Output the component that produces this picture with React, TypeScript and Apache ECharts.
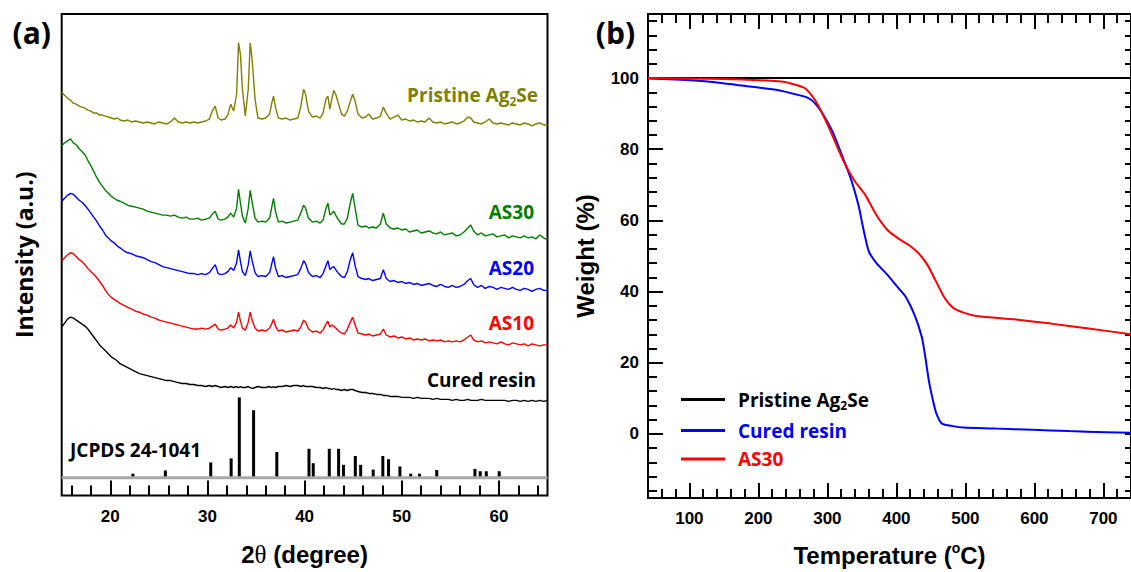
import React, { useEffect, useRef } from 'react';
import * as echarts from 'echarts';

// ---------------- XRD data (a.u., offset traces) ----------------
const twoTheta = [
  15.0, 15.3, 15.6, 15.9, 16.2, 16.5, 16.8, 17.1, 17.4, 17.7,
  18.0, 18.3, 18.6, 18.9, 19.2, 19.5, 19.8, 20.1, 20.4, 20.7,
  21.0, 21.4, 21.8, 22.2, 22.6, 23.0, 23.4, 23.8, 24.2, 24.6,
  25.0, 25.4, 25.8, 26.2, 26.6, 27.0, 27.4, 27.8, 28.2, 28.6,
  29.0, 29.4, 29.8, 30.2, 30.5, 30.8, 31.1, 31.4, 31.8, 32.1,
  32.4, 32.7, 33.0, 33.2, 33.4, 33.6, 33.9, 34.2, 34.4, 34.6,
  34.9, 35.2, 35.6, 36.0, 36.4, 36.6, 36.8, 37.0, 37.3, 37.7,
  38.1, 38.5, 38.9, 39.3, 39.6, 39.9, 40.1, 40.4, 40.8, 41.2,
  41.6, 41.9, 42.2, 42.4, 42.6, 42.8, 43.0, 43.2, 43.5, 43.8,
  44.1, 44.4, 44.7, 44.95, 45.2, 45.5, 45.9, 46.3, 46.6, 47.0,
  47.4, 47.8, 48.1, 48.4, 48.8, 49.2, 49.6, 50.0, 50.4, 50.8,
  51.2, 51.6, 52.0, 52.4, 52.8, 53.2, 53.6, 54.0, 54.4, 54.8,
  55.2, 55.6, 56.0, 56.4, 56.8, 57.1, 57.4, 57.8, 58.2, 58.6,
  59.0, 59.4, 59.8, 60.2, 60.6, 61.0, 61.4, 61.8, 62.2, 62.6,
  63.0, 63.4, 63.8, 64.2, 64.6, 65.0,
];

const intPristine = [
  407, 404, 401, 399, 396, 395, 393, 392, 391, 389,
  388, 386, 386, 384, 384, 383, 382, 381, 380, 381,
  379, 378, 379, 377, 378, 377, 376, 377, 376, 375,
  377, 376, 375, 377, 381, 377, 376, 377, 376, 377,
  376, 377, 378, 380, 388, 393, 381, 379, 380, 384,
  395, 388, 405, 457, 445, 410, 383, 410, 457, 440,
  400, 381, 380, 381, 385, 395, 403, 392, 381, 380,
  381, 379, 380, 381, 392, 410, 405, 388, 382, 383,
  381, 386, 400, 403, 390, 400, 409, 405, 395, 385,
  383, 388, 398, 405, 398, 385, 381, 382, 385, 380,
  381, 383, 392, 386, 380, 382, 384, 379, 380, 378,
  379, 377, 378, 377, 381, 377, 376, 377, 375, 376,
  377, 375, 376, 378, 382, 381, 377, 376, 375, 377,
  380, 376, 375, 376, 375, 374, 376, 375, 374, 376,
  375, 373, 375, 376, 374, 374,
];

const intAS30 = [
  353, 356, 358, 360, 356, 354, 350, 347, 344, 338,
  333, 327, 321, 316, 312, 308, 305, 302, 300, 298,
  297, 295, 293, 292, 291, 290, 289, 287, 286, 285,
  284, 283, 283, 282, 283, 281, 280, 281, 279, 279,
  280, 278, 279, 280, 284, 287, 279, 278, 279, 281,
  285, 281, 290, 309, 295, 282, 275, 290, 308, 296,
  280, 276, 277, 276, 280, 290, 300, 287, 276, 277,
  275, 276, 277, 278, 285, 293, 290, 280, 276, 277,
  275, 278, 290, 295, 283, 285, 287, 283, 278, 274,
  274, 280, 295, 305, 290, 273, 271, 272, 270, 271,
  270, 274, 285, 274, 270, 269, 270, 268, 269, 266,
  267, 268, 265, 266, 267, 265, 264, 266, 263, 264,
  265, 262, 263, 266, 270, 273, 267, 263, 265, 262,
  263, 264, 261, 262, 263, 260, 262, 261, 260, 262,
  260, 261, 259, 263, 260, 258,
];

const intAS20 = [
  297, 300, 303, 305, 304, 301, 298, 296, 293, 289,
  285, 281, 277, 272, 268, 263, 260, 257, 255, 252,
  250, 247, 245, 244, 242, 241, 240, 238, 236, 235,
  233, 231, 230, 229, 228, 227, 226, 225, 224, 224,
  223, 224, 223, 225, 229, 233, 224, 223, 224, 226,
  230, 227, 235, 248, 236, 226, 222, 233, 247, 237,
  225, 221, 222, 221, 225, 233, 241, 230, 221, 222,
  220, 221, 222, 223, 229, 237, 234, 225, 221, 222,
  220, 224, 232, 237, 228, 230, 231, 228, 224, 221,
  220, 226, 238, 245, 232, 221, 219, 218, 219, 217,
  218, 219, 228, 219, 216, 217, 215, 216, 214, 215,
  213, 214, 212, 213, 214, 212, 211, 213, 211, 210,
  212, 210, 211, 213, 217, 219, 213, 210, 212, 209,
  211, 210, 208, 210, 209, 208, 210, 208, 207, 209,
  208, 206, 208, 209, 207, 207,
];

const intAS10 = [
  237, 240, 243, 245, 244, 241, 238, 236, 233, 229,
  226, 223, 220, 216, 212, 207, 203, 200, 198, 196,
  194, 192, 190, 188, 186, 185, 183, 182, 180, 179,
  177, 176, 175, 174, 173, 172, 171, 170, 169, 168,
  168, 169, 168, 169, 171, 173, 168, 167, 168, 169,
  172, 169, 175, 185, 176, 169, 167, 175, 185, 177,
  169, 166, 167, 166, 169, 173, 178, 171, 166, 167,
  165, 166, 167, 166, 170, 177, 175, 168, 165, 166,
  164, 167, 173, 176, 170, 172, 171, 169, 166, 164,
  163, 168, 175, 180, 172, 164, 163, 162, 163, 161,
  162, 163, 168, 162, 160, 161, 159, 160, 158, 159,
  157, 158, 157, 158, 156, 157, 156, 157, 155, 156,
  155, 156, 155, 157, 160, 162, 157, 155, 156, 154,
  155, 154, 153, 155, 153, 152, 154, 153, 152, 153,
  151, 153, 152, 151, 152, 152,
];

const intCured = [
  170, 174, 178, 180, 179, 177, 175, 173, 171, 168,
  164, 160, 156, 152, 149, 146, 143, 140, 138, 136,
  133, 131, 129, 127, 125, 123, 122, 121, 120, 119,
  118, 117, 116, 116, 115, 114, 113, 113, 112, 112,
  111, 111, 110, 111, 110, 111, 110, 109, 110, 109,
  110, 109, 110, 109, 110, 109, 109, 110, 109, 108,
  109, 110, 109, 109, 110, 109, 110, 109, 110, 110,
  111, 110, 111, 111, 110, 111, 110, 110, 110, 109,
  109, 108, 109, 108, 108, 107, 108, 107, 107, 106,
  107, 106, 107, 107, 106, 105, 104, 104, 103, 103,
  102, 102, 101, 101, 100, 100, 100, 99, 99, 99,
  98, 99, 98, 98, 98, 97, 98, 97, 97, 97,
  96, 97, 96, 96, 97, 96, 96, 96, 97, 96,
  96, 96, 96, 96, 96, 95, 96, 96, 95, 96,
  95, 96, 95, 96, 95, 96,
];

// JCPDS 24-1041 reference pattern (2θ, relative intensity %)
const jcpdsPos = [22.33, 25.67, 30.34, 32.44, 33.28, 34.75, 37.14, 40.45, 40.89, 42.54, 43.5, 44.0, 45.22, 45.77, 47.06, 48.05, 48.64, 49.81, 50.92, 51.83, 53.6, 57.53, 58.08, 58.7, 60.03];
const jcpdsRel = [5, 9, 19, 24, 100, 84, 32, 36, 18, 36, 36, 16, 27, 16, 10, 27, 23, 14, 5, 5, 9.5, 11, 8, 8, 8];
const JCPDS_BASE = 18;
const JCPDS_SCALE = 0.81;

const xrdMajorTicks = [20, 30, 40, 50, 60];
const xrdMinorTicks = [16, 18, 22, 24, 26, 28, 32, 34, 36, 38, 42, 44, 46, 48, 52, 54, 56, 58, 62, 64];

// ---------------- TGA data ----------------
const tgaCuredT = [40, 80, 123, 176, 229, 255, 271, 281, 292, 308, 323, 334, 345, 353, 360, 371, 387, 403, 413, 426, 437, 442, 447, 453, 458, 466, 482, 497, 545, 597, 650, 703, 740];
const tgaCuredW = [99.9, 99.6, 99.1, 97.9, 96.6, 95.4, 94.5, 93.1, 90.3, 84.7, 77.3, 71.7, 64.3, 56.8, 51.3, 48.0, 44.7, 41.0, 38.7, 33.6, 27.1, 21.5, 15.0, 9.4, 5.7, 2.9, 2.2, 1.8, 1.5, 1.2, 0.8, 0.5, 0.3];
const tgaAS30T = [40, 123, 176, 229, 243, 266, 276, 287, 303, 324, 339, 355, 371, 387, 403, 418, 432, 445, 457, 469, 482, 497, 518, 571, 624, 676, 740];
const tgaAS30W = [100, 99.8, 99.6, 99.1, 98.7, 97.3, 95.4, 92.2, 85.7, 76.4, 71.2, 67.1, 61.5, 57.3, 54.9, 53.1, 50.8, 47.5, 43.0, 38.5, 35.5, 34.1, 33.1, 32.2, 31.0, 29.7, 28.0];
const tgaPristineT = [40, 200, 400, 600, 740];
const tgaPristineW = [100, 100, 100, 100, 100];

const tempMajorTicks = [100, 200, 300, 400, 500, 600, 700];
const tempMinorTicks = [60, 80, 120, 140, 160, 180, 220, 240, 260, 280, 320, 340, 360, 380, 420, 440, 460, 480, 520, 540, 560, 580, 620, 640, 660, 680, 720];
const weightMajorTicks = [0, 20, 40, 60, 80, 100];
const weightMinorTicks = [-16, -12, -8, -4, 4, 8, 12, 16, 24, 28, 32, 36, 44, 48, 52, 56, 64, 68, 72, 76, 84, 88, 92, 96, 104, 108, 112, 116];
const weightAllTicks = [-16, -12, -8, -4, 0, 4, 8, 12, 16, 20, 24, 28, 32, 36, 40, 44, 48, 52, 56, 60, 64, 68, 72, 76, 80, 84, 88, 92, 96, 100, 104, 108, 112, 116];

const LABEL_FONT = "'Open Sans', 'Noto Sans', sans-serif";
const AXIS_FONT = "'Liberation Sans', Arial, sans-serif";

const richAnno = {
  n: { fontSize: 19, fontWeight: 'bold', fontFamily: LABEL_FONT, lineHeight: 24 },
  s: { fontSize: 12, fontWeight: 'bold', fontFamily: LABEL_FONT, lineHeight: 14, verticalAlign: 'bottom' },
};

const zip = (xs: number[], ys: number[]) => xs.map((x, i) => [x, ys[i]]);

const tickLine = { color: '#000', width: 2 };

function tickAxis(gridIndex: number, position: string, min: number, max: number, values: number[], length: number, extra: any = {}) {
  return {
    type: 'value',
    gridIndex,
    position,
    min,
    max,
    axisLine: { show: false, onZero: false },
    splitLine: { show: false },
    axisTick: { show: true, inside: true, length, lineStyle: tickLine, customValues: values },
    axisLabel: { show: false },
    ...extra,
  };
}

const tickLabel = (values: number[], margin: number) => ({
  show: true,
  customValues: values,
  margin,
  fontSize: 17,
  fontWeight: 'bold',
  fontFamily: AXIS_FONT,
  color: '#000',
});

function annoText(text: string, x: number, y: number, color: string, align: string) {
  return {
    type: 'text',
    x,
    y,
    silent: true,
    style: {
      text,
      rich: richAnno,
      fill: color,
      align,
      verticalAlign: 'middle',
      fontSize: 19,
      fontWeight: 'bold',
      fontFamily: LABEL_FONT,
    },
  };
}

export default function App() {
  const ref = useRef<HTMLDivElement>(null);

  useEffect(() => {
    if (!ref.current) return;
    const chart = echarts.init(ref.current, undefined, { renderer: 'svg' });

    const xrdLine = (name: string, data: number[], color: string) => ({
      type: 'line',
      name,
      xAxisIndex: 0,
      yAxisIndex: 0,
      data: zip(twoTheta, data),
      symbol: 'none',
      silent: true,
      lineStyle: { color, width: 1.4 },
      itemStyle: { color },
    });

    const tgaLine = (name: string, t: number[], w: number[], color: string) => ({
      type: 'line',
      name,
      xAxisIndex: 2,
      yAxisIndex: 1,
      data: zip(t, w),
      symbol: 'none',
      smooth: 0.2,
      silent: true,
      lineStyle: { color, width: 2 },
      itemStyle: { color },
    });

    const option: any = {
      animation: false,
      backgroundColor: '#fff',
      grid: [
        { left: 61.7, top: 14, width: 485.8, height: 486, show: true, borderColor: '#000', borderWidth: 2, backgroundColor: 'transparent' },
        { left: 648, top: 14, width: 484, height: 487, show: true, borderColor: '#000', borderWidth: 2, backgroundColor: 'transparent' },
      ],
      xAxis: [
        tickAxis(0, 'bottom', 15, 65, xrdMajorTicks, 15, {
          axisLabel: tickLabel(xrdMajorTicks, 12),
          name: '{a|2}{t|θ}{a| (degree)}',
          nameLocation: 'middle',
          nameGap: 45,
          nameTextStyle: {
            rich: {
              a: { fontSize: 24, fontWeight: 'bold', fontFamily: AXIS_FONT, color: '#000', lineHeight: 28 },
              t: { fontSize: 25, fontFamily: "'Liberation Serif', serif", color: '#000', lineHeight: 28 },
            },
          },
        }),
        tickAxis(0, 'bottom', 15, 65, xrdMinorTicks, 10),
        tickAxis(1, 'bottom', 40, 740, tempMajorTicks, 15, {
          axisLabel: tickLabel(tempMajorTicks, 12),
          name: '{a|Temperature (}{s|o}{a|C)}',
          nameLocation: 'middle',
          nameGap: 43,
          nameTextStyle: {
            rich: {
              a: { fontSize: 24, fontWeight: 'bold', fontFamily: AXIS_FONT, color: '#000', lineHeight: 28 },
              s: { fontSize: 14, fontWeight: 'bold', fontFamily: AXIS_FONT, color: '#000', lineHeight: 18, verticalAlign: 'top' },
            },
          },
        }),
        tickAxis(1, 'bottom', 40, 740, tempMinorTicks, 9),
        tickAxis(1, 'top', 40, 740, tempMajorTicks, 15),
        tickAxis(1, 'top', 40, 740, tempMinorTicks, 9),
      ],
      yAxis: [
        {
          type: 'value',
          gridIndex: 0,
          min: 0,
          max: 486,
          axisLine: { show: false, onZero: false },
          axisTick: { show: false },
          axisLabel: { show: false },
          splitLine: { show: false },
          name: 'Intensity (a.u.)',
          nameLocation: 'middle',
          nameRotate: 90,
          nameGap: 24,
          nameTextStyle: { fontSize: 23, fontWeight: 'bold', fontFamily: LABEL_FONT, color: '#000', lineHeight: 28 },
        },
        tickAxis(1, 'left', -18, 118, weightMajorTicks, 15, {
          axisLabel: tickLabel(weightMajorTicks, 9),
          name: 'Weight (%)',
          nameLocation: 'middle',
          nameRotate: 90,
          nameGap: 49,
          nameTextStyle: { fontSize: 24, fontWeight: 'bold', fontFamily: AXIS_FONT, color: '#000', lineHeight: 28 },
        }),
        tickAxis(1, 'left', -18, 118, weightMinorTicks, 9),
        tickAxis(1, 'right', -18, 118, weightAllTicks, 6),
      ],
      legend: {
        show: true,
        selectedMode: false,
        orient: 'vertical',
        left: 676,
        top: 385,
        itemWidth: 44,
        itemHeight: 3,
        itemGap: 9.5,
        icon: 'rect',
        data: [
          { name: 'Pristine Ag2Se', textStyle: { color: '#000' } },
          { name: 'Cured resin', textStyle: { color: '#0000ff' } },
          { name: 'AS30', textStyle: { color: '#ff0000' } },
        ],
        formatter: (name: string) => (name === 'Pristine Ag2Se' ? '{n|Pristine Ag}{s|2}{n|Se}' : '{n|' + name + '}'),
        textStyle: { padding: [0, 0, 0, 8], rich: richAnno, fontSize: 19, fontWeight: 'bold', fontFamily: LABEL_FONT },
      },
      graphic: [
        annoText('{n|Pristine Ag}{s|2}{n|Se}', 538, 95, '#808000', 'right'),
        annoText('{n|AS30}', 534, 212, '#008000', 'right'),
        annoText('{n|AS20}', 534, 268, '#0000ff', 'right'),
        annoText('{n|AS10}', 534, 323, '#ff0000', 'right'),
        annoText('{n|Cured resin}', 536, 380, '#000000', 'right'),
        annoText('{n|JCPDS 24-1041}', 70, 450, '#000000', 'left'),
        {
          type: 'text', x: 31.7, y: 32.5, silent: true,
          style: { text: '(a)', fill: '#000', align: 'center', verticalAlign: 'middle', fontSize: 30, fontWeight: 'bold', fontFamily: LABEL_FONT },
        },
        {
          type: 'text', x: 615.5, y: 32.5, silent: true,
          style: { text: '(b)', fill: '#000', align: 'center', verticalAlign: 'middle', fontSize: 30, fontWeight: 'bold', fontFamily: LABEL_FONT },
        },
      ],
      series: [
        {
          type: 'line',
          name: 'JCPDS baseline',
          xAxisIndex: 0,
          yAxisIndex: 0,
          data: [[15, JCPDS_BASE], [65, JCPDS_BASE]],
          symbol: 'none',
          silent: true,
          lineStyle: { color: '#a8a8a8', width: 3 },
        },
        {
          type: 'custom',
          name: 'JCPDS 24-1041',
          xAxisIndex: 0,
          yAxisIndex: 0,
          silent: true,
          data: zip(jcpdsPos, jcpdsRel),
          renderItem: (params: any, api: any) => {
            const x = api.value(0);
            const rel = api.value(1);
            const p0 = api.coord([x, JCPDS_BASE]);
            const p1 = api.coord([x, JCPDS_BASE + rel * JCPDS_SCALE]);
            return {
              type: 'rect',
              shape: { x: p0[0] - 1.5, y: p1[1], width: 3, height: p0[1] - p1[1] },
              style: { fill: '#000' },
            };
          },
        },
        xrdLine('XRD Cured resin', intCured, '#000000'),
        xrdLine('XRD AS10', intAS10, '#ff0000'),
        xrdLine('XRD AS20', intAS20, '#0000ff'),
        xrdLine('XRD AS30', intAS30, '#008000'),
        xrdLine('XRD Pristine', intPristine, '#808000'),
        tgaLine('Pristine Ag2Se', tgaPristineT, tgaPristineW, '#000000'),
        tgaLine('Cured resin', tgaCuredT, tgaCuredW, '#0000ff'),
        tgaLine('AS30', tgaAS30T, tgaAS30W, '#ff0000'),
      ],
    };

    chart.setOption(option);
    return () => chart.dispose();
  }, []);

  return <div ref={ref} style={{ position: 'absolute', left: 0, top: 0, width: 1131, height: 572 }} />;
}
